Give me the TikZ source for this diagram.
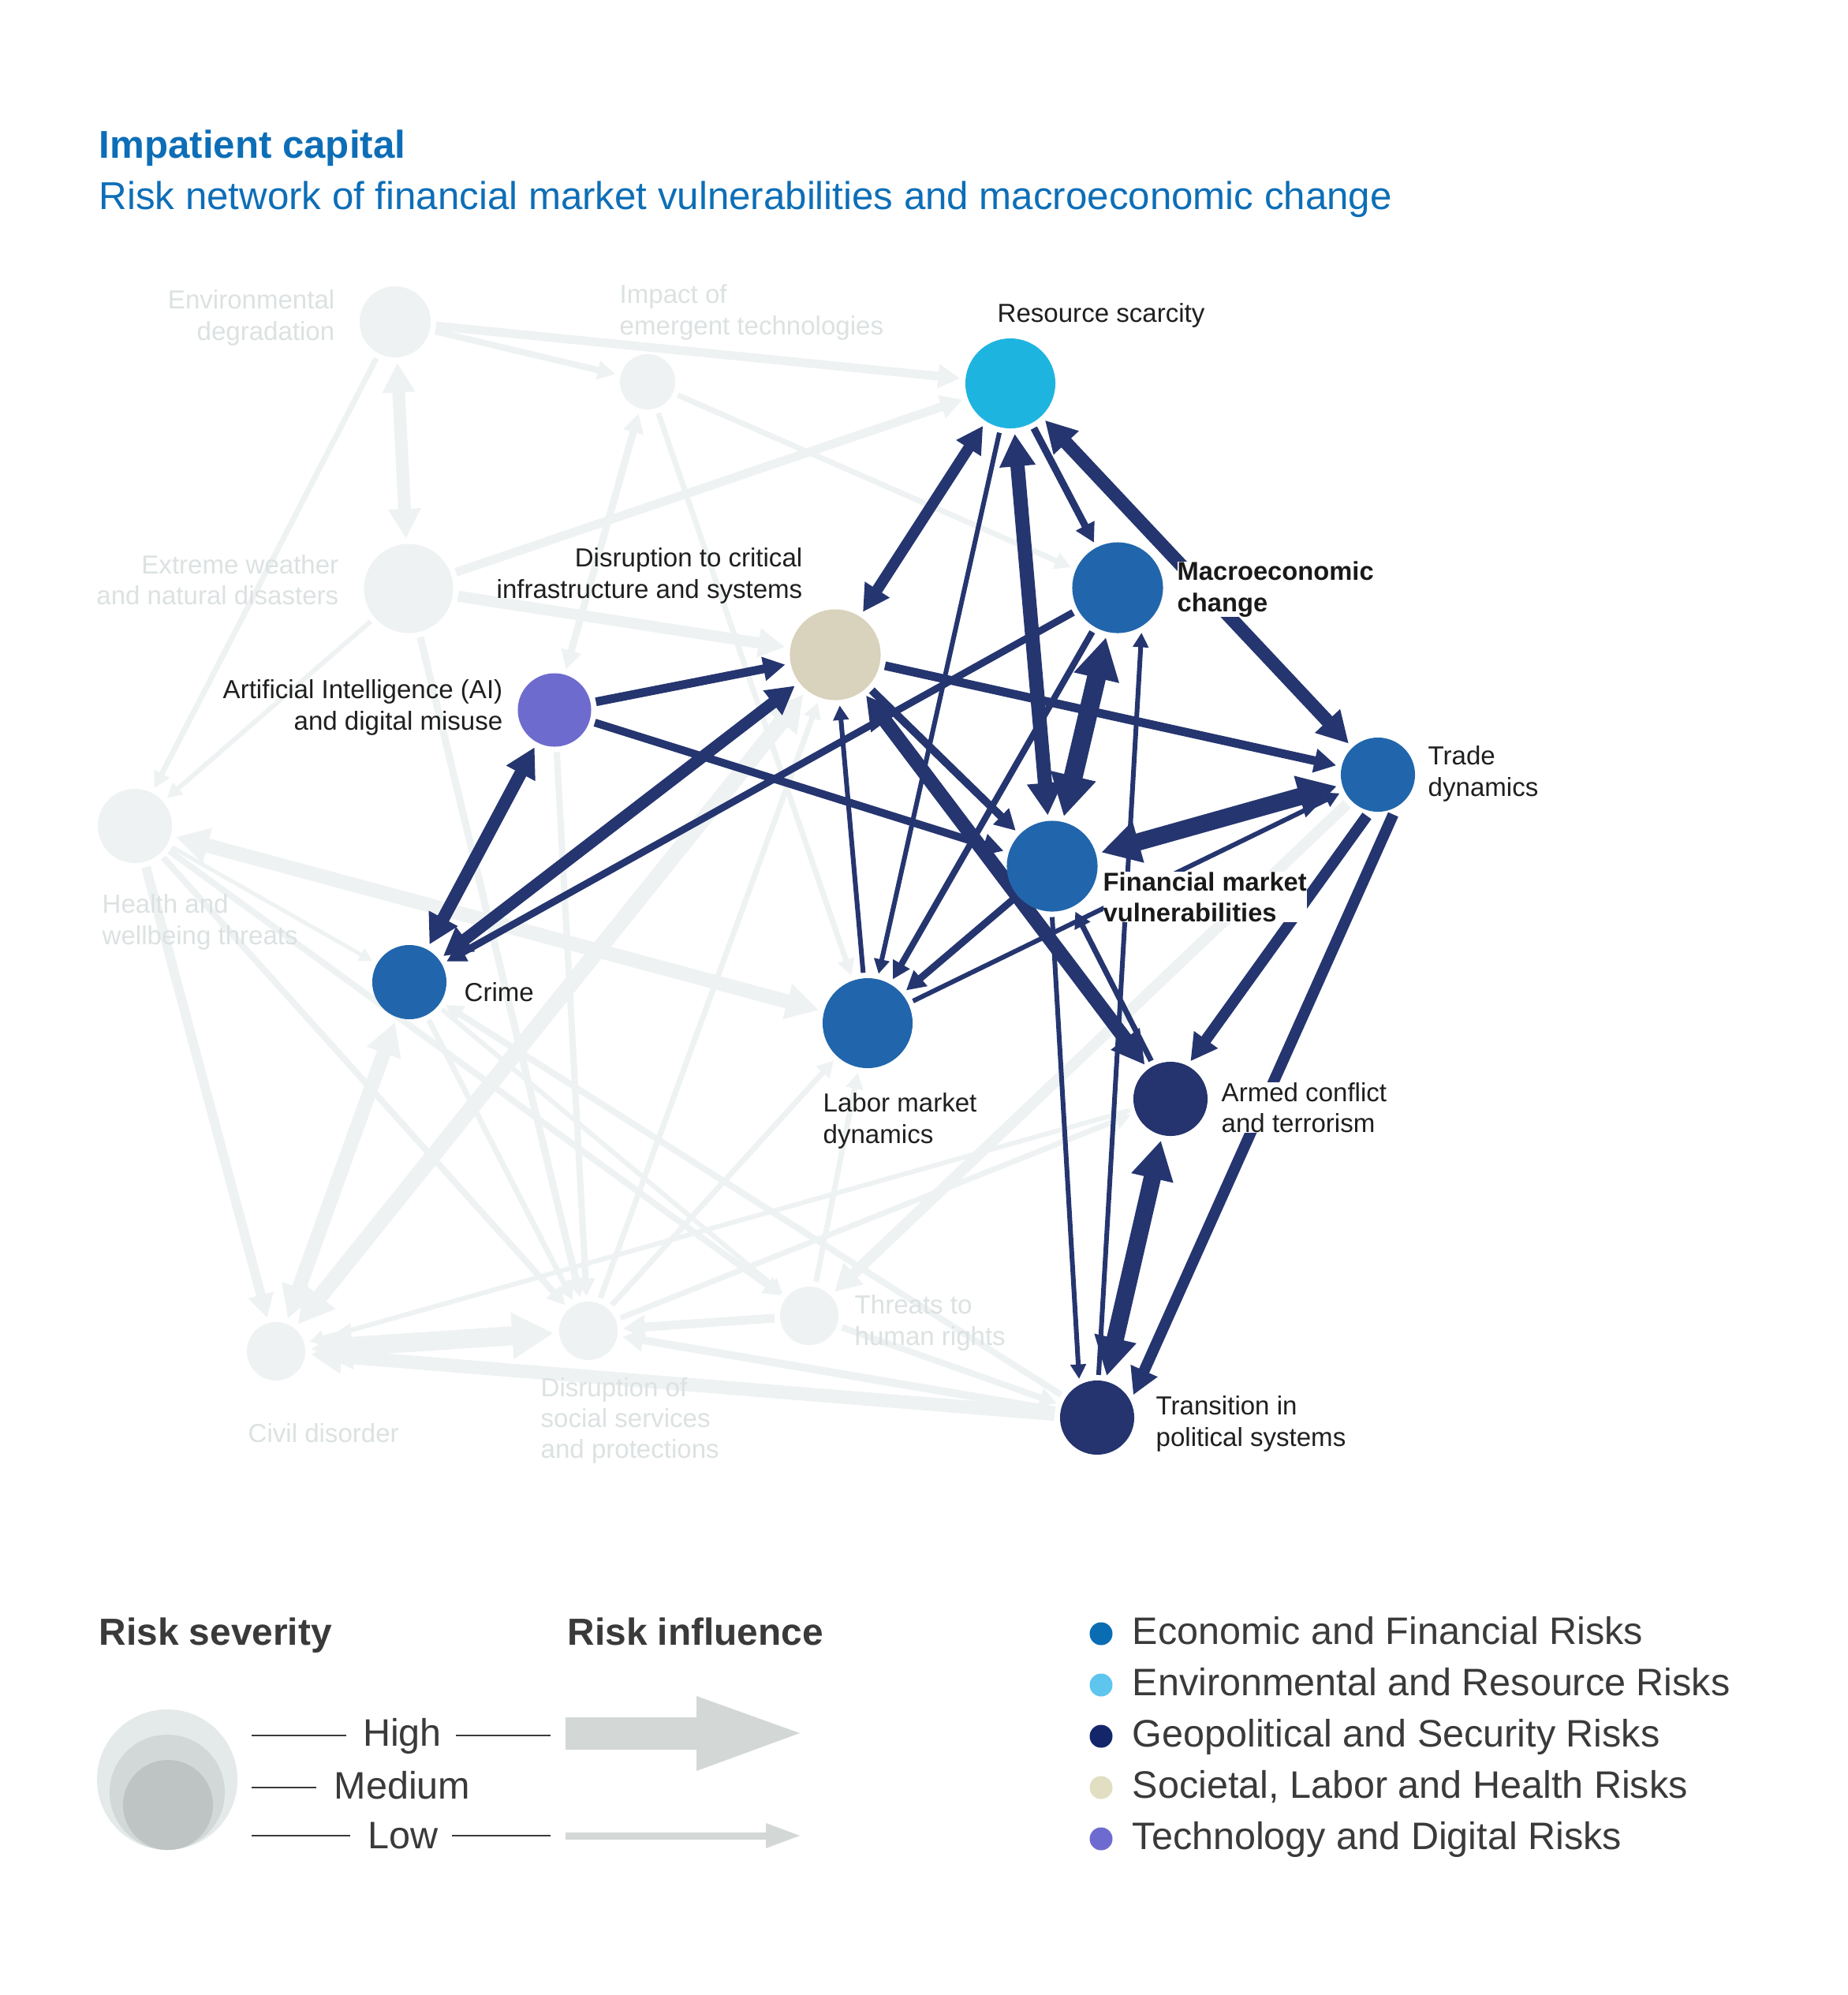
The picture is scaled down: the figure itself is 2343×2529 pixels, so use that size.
\documentclass[tikz,border=0pt]{standalone}
\usepackage{fontspec}
\setmainfont{Liberation Sans}
\usetikzlibrary{arrows.meta}
\definecolor{econ}{HTML}{2166AC}
\definecolor{envc}{HTML}{1EB4E0}
\definecolor{geo}{HTML}{25336E}
\definecolor{soc}{HTML}{D9D2BC}
\definecolor{tech}{HTML}{6E6BCF}
\definecolor{dk}{HTML}{25356F}
\definecolor{lt}{HTML}{EEF2F2}
\definecolor{lttext}{HTML}{DCE1E1}
\definecolor{ttl}{HTML}{0D6EB7}
\definecolor{legtext}{HTML}{3A3A3A}
\definecolor{lgecon}{HTML}{0A6DB3}
\definecolor{lgenv}{HTML}{5EC5EE}
\definecolor{lggeo}{HTML}{13266A}
\definecolor{lgsoc}{HTML}{E2DEC2}
\definecolor{lgtech}{HTML}{6E6BD0}
\definecolor{sevA}{HTML}{E4EAE9}
\definecolor{sevB}{HTML}{D2D8D7}
\definecolor{sevC}{HTML}{BEC4C4}
\definecolor{infl}{HTML}{D3D8D7}
\pgfdeclarelayer{layA}
\pgfdeclarelayer{layB}
\pgfdeclarelayer{layC}
\pgfdeclarelayer{layD}
\pgfsetlayers{layA,layB,layC,layD,main}
\begin{document}
\begin{tikzpicture}[x=0.01cm,y=-0.01cm,
  >={Triangle[width=2pt 2,length=2pt 1.9]},
  nd/.style={circle,inner sep=0pt,outer sep=2pt,minimum size=#1},
  de/.style={draw=dk,line width=#1*0.2845pt},
  le/.style={draw=lt,line width=#1*0.2845pt},
  lab/.style={font=\fontsize{9.4}{11.2}\selectfont,text=black!88,inner sep=0pt},
  llab/.style={font=\fontsize{9.4}{11.2}\selectfont,text=lttext,inner sep=0pt},
  blab/.style={font=\bfseries\fontsize{9.3}{11.2}\selectfont,text=black!90,inner sep=0pt,fill=white},
  leg/.style={font=\fontsize{13.8}{16}\selectfont,text=legtext,inner sep=0pt},
  legh/.style={font=\bfseries\fontsize{13.6}{16}\selectfont,text=legtext,inner sep=0pt},
  legline/.style={draw=legtext,line width=0.6pt}]
\begin{pgfonlayer}{layA}
\fill[white] (0,0) rectangle (2343,2529);
\end{pgfonlayer}
\useasboundingbox (0,0) rectangle (2343,2529);

% light nodes
\begin{pgfonlayer}{layC}
\node[nd=0.90cm,fill=lt] (E) at (501,408) {};
\node[nd=0.70cm,fill=lt] (I) at (821,484) {};
\node[nd=1.13cm,fill=lt] (X) at (518,746) {};
\node[nd=0.94cm,fill=lt] (H) at (171,1047) {};
\node[nd=0.74cm,fill=lt] (Th) at (1026,1668) {};
\node[nd=0.74cm,fill=lt] (Ci) at (350,1713) {};
\node[nd=0.74cm,fill=lt] (S) at (746,1687) {};
\end{pgfonlayer}

% coloured nodes
\node[nd=1.14cm,fill=envc] (R) at (1281,486) {};
\node[nd=1.15cm,fill=soc] (D) at (1059,830) {};
\node[nd=1.15cm,fill=econ] (M) at (1417,745) {};
\node[nd=0.93cm,fill=tech] (A) at (703,900) {};
\node[nd=0.94cm,fill=econ] (T) at (1747,982) {};
\node[nd=1.15cm,fill=econ] (F) at (1334,1098) {};
\node[nd=0.94cm,fill=econ] (C) at (519,1245) {};
\node[nd=1.14cm,fill=econ] (L) at (1100,1297) {};
\node[nd=0.94cm,fill=geo] (Ar) at (1484,1393) {};
\node[nd=0.94cm,fill=geo] (Tr) at (1391,1797) {};

% light edges
\begin{pgfonlayer}{layB}
\draw[le=8,->] (E) -- (I);
\draw[le=11,->] (E) -- (R);
\draw[le=16,<->] (E) -- (X);
\draw[le=7,->] (E) -- (H);
\draw[le=11,->] (X) -- (R);
\draw[le=14,->] (X) -- (D);
\draw[le=6,->] (X) -- (H);
\draw[le=9,->] (X) -- (S);
\draw[le=7,->] (I) -- (M);
\draw[le=7,->] (I) -- (L);
\draw[le=9,<->] (I) -- (A);
\draw[le=18,<->] (H) -- (L);
\draw[le=5,->] (H) -- (C);
\draw[le=12,->] (H) -- (Ci);
\draw[le=8,->] (H) -- (S);
\draw[le=8,->] (H) -- (Th);
\draw[le=18,<->] (C) -- (Ci);
\draw[le=7,->] (C) -- (S);
\draw[le=6,->] (C) -- (Th);
\draw[le=8,->] (Tr) -- (C);
\draw[le=20,<->] (D) -- (Ci);
\draw[le=24,<->] (S) -- (Ci);
\draw[le=17,->] (Tr) -- (Ci);
\draw[le=6,->] (Ar) -- (Ci);
\draw[le=11,->] (Th) -- (S);
\draw[le=10,->] (Tr) -- (S);
\draw[le=7,->] (S) -- (L);
\draw[le=7,->] (Th) -- (L);
\draw[le=14,->] (T) -- (Th);
\draw[le=8,->] (Th) -- (Tr);
\draw[le=7,->] (S) -- (Ar);
\draw[le=8,->] (A) -- (S);
\draw[le=7,->] (S) -- (D);
\end{pgfonlayer}

% dark edges
\begin{pgfonlayer}{layD}
\draw[de=14,<->] (R) -- (D);
\draw[de=6,->] (R) -- (L);
\draw[de=18,<->] (R) -- (F);
\draw[de=9,->] (R) -- (M);
\draw[de=17,<->] (T) -- (R);
\draw[de=11,->] (D) -- (T);
\draw[de=11,->] (A) -- (D);
\draw[de=10,->] (A) -- (F);
\draw[de=16,<->] (C) -- (A);
\draw[de=15,<->] (C) -- (D);
\draw[de=9,->] (M) -- (C);
\draw[de=10,->] (D) -- (F);
\draw[de=18,<->] (D) -- (Ar);
\draw[de=6,->] (L) -- (D);
\draw[de=24,<->] (M) -- (F);
\draw[de=6,->] (Tr.88) -- (M.-62);
\draw[de=8,->] (M) -- (L);
\draw[de=22,<->] (T) -- (F);
\draw[de=6,->] (L) -- (T);
\draw[de=7,->] (Ar) -- (F);
\draw[de=9,->] (F) -- (L);
\draw[de=6,->] (F.-90) -- (Tr.115);
\draw[de=14,->] (T.-105) -- (Ar.62);
\draw[de=14,->] (T.-69) -- (Tr.32);
\draw[de=22,<->] (Ar) -- (Tr);
\end{pgfonlayer}

% labels
\node[llab,align=right,anchor=east] (lE) at (425,403) {Environmental\\degradation};
\node[llab,align=left,anchor=west] (lI) at (785,396) {Impact of\\emergent technologies};
\node[lab,anchor=base west] (lR) at (1264,408) {Resource scarcity};
\node[llab,align=right,anchor=east] (lX) at (430,735) {Extreme weather\\and natural disasters};
\node[lab,align=right,anchor=east] (lD) at (1018,730) {Disruption to critical\\infrastructure and systems};
\node[blab,align=left,anchor=west] (lM) at (1492,747) {Macroeconomic\\change};
\node[lab,align=right,anchor=east] (lA) at (638,897) {Artificial Intelligence (AI)\\and digital misuse};
\node[lab,align=left,anchor=west] (lT) at (1810,981) {Trade\\dynamics};
\node[llab,align=left,anchor=west] (lH) at (129,1169) {Health and\\wellbeing threats};
\node[blab,align=left,anchor=west] (lF) at (1398,1137) {Financial market\\vulnerabilities};
\node[lab,anchor=base west] (lC) at (588,1269) {Crime};
\node[lab,align=left,anchor=west] (lL) at (1043,1421) {Labor market\\dynamics};
\node[lab,align=left,anchor=west,fill=white] (lAr) at (1548,1404) {Armed conflict\\and terrorism};
\node[llab,align=left,anchor=west] (lTh) at (1083,1677) {Threats to\\human rights};
\node[llab,anchor=base west] (lCi) at (314,1828) {Civil disorder};
\node[llab,align=left,anchor=west] (lS) at (685,1801) {Disruption of\\social services\\and protections};
\node[lab,align=left,anchor=west] (lTr) at (1465,1805) {Transition in\\political systems};

% title
\node[anchor=base west,inner sep=0pt,font=\bfseries\fontsize{14}{16}\selectfont,text=ttl] (title) at (125,200) {Impatient capital};
\node[anchor=base west,inner sep=0pt,font=\fontsize{14}{16}\selectfont,text=ttl] (subtitle) at (125,265) {Risk network of financial market vulnerabilities and macroeconomic change};

% legend: severity
\node[legh,anchor=base west] (hsev) at (125,2085) {Risk severity};
\node[legh,anchor=base west] (hinf) at (719,2085) {Risk influence};
\fill[sevA] (212,2256) circle[radius=0.89cm];
\fill[sevB] (212,2272) circle[radius=0.73cm];
\fill[sevC] (213,2288) circle[radius=0.57cm];
\draw[legline] (319,2200) -- (439,2200);
\draw[legline] (578,2200) -- (698,2200);
\draw[legline] (319,2266) -- (401,2266);
\draw[legline] (319,2327) -- (444,2327);
\draw[legline] (573,2327) -- (698,2327);
\node[leg,anchor=base] (tHigh) at (510,2213) {High};
\node[leg,anchor=base] (tMed) at (510,2280) {Medium};
\node[leg,anchor=base] (tLow) at (511,2343) {Low};
\fill[infl] (717,2177) -- (883,2177) -- (883,2150) -- (1014,2197) -- (883,2245) -- (883,2218) -- (717,2218) -- cycle;
\fill[infl] (717,2323) -- (971,2323) -- (971,2311) -- (1014,2327) -- (971,2343) -- (971,2332) -- (717,2332) -- cycle;

% legend: categories
\fill[lgecon] (1396,2071) circle[radius=0.145cm];
\fill[lgenv] (1396,2136) circle[radius=0.145cm];
\fill[lggeo] (1396,2201) circle[radius=0.145cm];
\fill[lgsoc] (1396,2266) circle[radius=0.145cm];
\fill[lgtech] (1396,2331) circle[radius=0.145cm];
\node[leg,anchor=base west] (k1) at (1435,2084) {Economic and Financial Risks};
\node[leg,anchor=base west] (k2) at (1435,2149) {Environmental and Resource Risks};
\node[leg,anchor=base west] (k3) at (1435,2214) {Geopolitical and Security Risks};
\node[leg,anchor=base west] (k4) at (1435,2279) {Societal, Labor and Health Risks};
\node[leg,anchor=base west] (k5) at (1435,2344) {Technology and Digital Risks};
\end{tikzpicture}
\end{document}
